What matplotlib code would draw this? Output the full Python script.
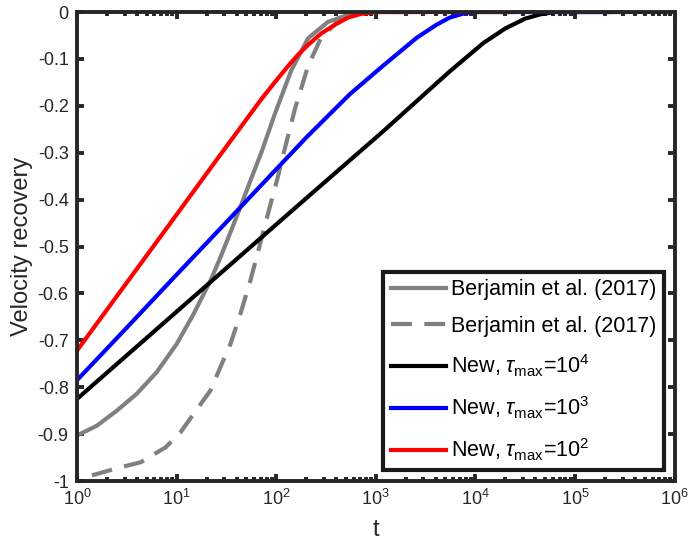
import numpy as np
import matplotlib
matplotlib.use('Agg')
import matplotlib.pyplot as plt

# values (log10 t, velocity recovery)
berj_logt = [0, 0.2, 0.4, 0.6, 0.8, 1.0, 1.17, 1.34, 1.44, 1.54, 1.64, 1.74, 1.85, 1.99, 2.15,
             2.32, 2.52, 2.72, 2.9, 3.5]
berj_v = [-0.903, -0.882, -0.85, -0.814, -0.768, -0.708, -0.644, -0.573, -0.523, -0.47, -0.416,
          -0.36, -0.30, -0.215, -0.125, -0.056, -0.021, -0.006, 0, 0]

berj2_logt = [0.15, 0.43, 0.64, 0.89, 1.04, 1.17, 1.34, 1.44, 1.54, 1.64, 1.74, 1.82, 1.89,
              1.94, 2.01, 2.07, 2.19, 2.32, 2.45, 2.62, 2.76, 2.9, 3.5]
berj2_v = [-0.988, -0.971, -0.96, -0.928, -0.896, -0.857, -0.807, -0.757, -0.708, -0.644, -0.573,
           -0.509, -0.452, -0.412, -0.357, -0.305, -0.205, -0.115, -0.055, -0.02, -0.005, 0, 0]

new4_logt = [0, 1, 2, 2.41, 2.74, 3.07, 3.41, 3.74, 4.08, 4.3, 4.5, 4.65, 4.8, 6]
new4_v = [-0.825, -0.639, -0.453, -0.377, -0.316, -0.255, -0.19, -0.127, -0.066, -0.035, -0.014,
          -0.005, 0, 0]

new3_logt = [0, 0.5, 1, 1.5, 1.89, 2.3, 2.74, 3.07, 3.41, 3.61, 3.74, 3.9, 4.0, 5.37]
new3_v = [-0.785, -0.673, -0.56, -0.448, -0.36, -0.268, -0.175, -0.115, -0.055, -0.027, -0.012,
          -0.002, 0, 0]

new2_logt = [0, 0.5, 1.0, 1.385, 1.85, 2.0, 2.12, 2.22, 2.32, 2.45, 2.59, 2.72, 2.85, 3.0, 4.37]
new2_v = [-0.722, -0.577, -0.432, -0.32, -0.186, -0.146, -0.115, -0.091, -0.07, -0.046, -0.027,
          -0.012, -0.004, 0, 0]

labels = ['Berjamin et al. (2017)', 'Berjamin et al. (2017)',
          r'New, $\tau_{\mathrm{max}}$=10$^4$',
          r'New, $\tau_{\mathrm{max}}$=10$^3$',
          r'New, $\tau_{\mathrm{max}}$=10$^2$']

plt.rcParams['font.family'] = ['Liberation Sans', 'DejaVu Sans']
plt.rcParams['mathtext.fontset'] = 'custom'
plt.rcParams['mathtext.rm'] = 'Liberation Sans'
plt.rcParams['mathtext.it'] = 'Liberation Sans:italic'
plt.rcParams['mathtext.sf'] = 'Liberation Sans'

dark = '#262626'
fig = plt.figure(figsize=(6.91, 5.46), dpi=100)
ax = fig.add_axes([0.1114, 0.119, 0.865, 0.859])

lw = 3.0
ax.plot(10 ** np.array(berj_logt), berj_v, color='#808080', lw=lw, label=labels[0])
ax.plot(10 ** np.array(berj2_logt), berj2_v, color='#808080', lw=lw, ls=(0, (5, 3)), label=labels[1])
ax.plot(10 ** np.array(new4_logt), new4_v, color='k', lw=lw, label=labels[2])
ax.plot(10 ** np.array(new3_logt), new3_v, color='b', lw=lw, label=labels[3])
ax.plot(10 ** np.array(new2_logt), new2_v, color='r', lw=lw, label=labels[4])

ax.set_xscale('log')
ax.set_xlim(1, 1e6)
ax.set_ylim(-1, 0)
ax.set_yticks(np.arange(-1, 0.01, 0.1))
ax.set_yticklabels(['-1', '-0.9', '-0.8', '-0.7', '-0.6', '-0.5', '-0.4', '-0.3', '-0.2', '-0.1', '0'])
ax.set_xticks([1, 10, 100, 1e3, 1e4, 1e5, 1e6])

for s in ax.spines.values():
    s.set_linewidth(2.8)
    s.set_color(dark)
ax.tick_params(which='both', direction='in', top=True, right=True, colors=dark,
               labelsize=13, width=2.8)
ax.tick_params(which='major', length=5)
ax.tick_params(which='minor', length=3)
ax.tick_params(axis='x', pad=6)
ax.tick_params(axis='y', pad=6)

ax.set_xlabel('t', fontsize=17, color=dark, labelpad=7)
ax.set_ylabel('Velocity recovery', fontsize=17, color=dark, labelpad=3)

leg = ax.legend(loc='lower right', fontsize=15.5, frameon=True, fancybox=False,
                edgecolor='#1a1a1a', handlelength=2.55, labelspacing=0.72,
                borderaxespad=0.5, handletextpad=0.25, borderpad=0.35)
leg.get_frame().set_linewidth(3)
leg.get_frame().set_alpha(1)

fig.savefig('out.png', dpi=100)
